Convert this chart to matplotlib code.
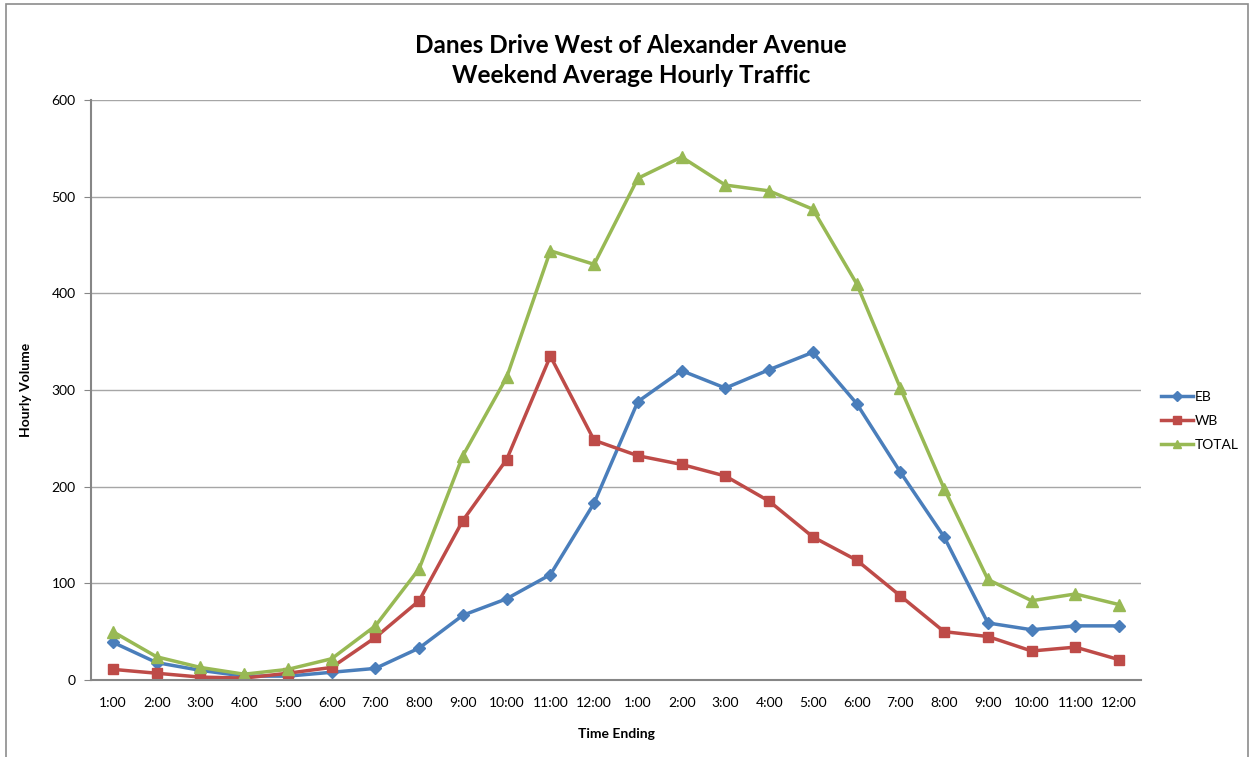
import matplotlib.pyplot as plt
from matplotlib.patches import Rectangle

hours = ['1:00', '2:00', '3:00', '4:00', '5:00', '6:00', '7:00', '8:00', '9:00', '10:00',
         '11:00', '12:00', '1:00', '2:00', '3:00', '4:00', '5:00', '6:00', '7:00', '8:00',
         '9:00', '10:00', '11:00', '12:00']
eb = [39, 18, 10, 4, 4, 8, 12, 33, 67, 84, 109, 183, 288, 320, 302, 321, 339, 286, 215, 148, 59, 52, 56, 56]
wb = [11, 7, 3, 2, 7, 13, 44, 82, 165, 228, 335, 248, 232, 223, 211, 185, 148, 124, 87, 50, 45, 30, 34, 21]
total = [50, 24, 13, 6, 11, 22, 56, 115, 232, 313, 444, 430, 519, 541, 512, 506, 487, 410, 302, 198, 104, 82, 89, 78]

plt.rcParams['font.family'] = ['Lato', 'DejaVu Sans']

fig = plt.figure(figsize=(12.52, 7.57), dpi=100)
ax = fig.add_axes([91 / 1252, 1 - 680 / 757, (1141 - 91) / 1252, 580 / 757])

# outer chart border
fig.patches.append(Rectangle((6 / 1252, -0.01), 1242 / 1252, 1 - 4 / 757 + 0.01,
                             transform=fig.transFigure, fill=False,
                             edgecolor='#8c8c8c', linewidth=1.2))

x = range(len(hours))
ax.plot(x, eb, color='#4a7ebb', marker='D', markersize=6, linewidth=2.5, label='EB')
ax.plot(x, wb, color='#be4b48', marker='s', markersize=7, linewidth=2.5, label='WB')
ax.plot(x, total, color='#98b954', marker='^', markersize=8, linewidth=2.5, label='TOTAL')

ax.set_xlim(-0.5, len(hours) - 0.5)
ax.set_ylim(0, 600)
ax.set_yticks(range(0, 601, 100))
ax.set_xticks(list(x))
ax.set_xticklabels(hours)
ax.grid(axis='y', color='#a6a6a6', linewidth=1)
ax.set_axisbelow(True)

for s in ['top', 'right']:
    ax.spines[s].set_visible(False)
for s in ['left', 'bottom']:
    ax.spines[s].set_color('#868686')
    ax.spines[s].set_linewidth(1.5)

ax.tick_params(axis='y', length=5, color='#868686', labelsize=10, pad=6)
ax.tick_params(axis='x', length=0, labelsize=10, pad=12)

ax.set_xlabel('Time Ending', fontsize=10, fontweight='bold', labelpad=14)
ax.set_ylabel('Hourly Volume', fontsize=10, fontweight='bold', labelpad=14)

fig.text(0.504, 0.955, 'Danes Drive West of Alexander Avenue\nWeekend Average Hourly Traffic',
         ha='center', va='top', fontsize=17.5, fontweight='bold', linespacing=1.35)

ax.legend(loc='center left', bbox_to_anchor=(1155 / 1252, 1 - 421 / 757),
          bbox_transform=fig.transFigure, frameon=False, fontsize=10,
          handlelength=2.3, labelspacing=0.85, handletextpad=0.15, borderaxespad=0,
          markerscale=0.8)

fig.savefig('out.png', dpi=100)
